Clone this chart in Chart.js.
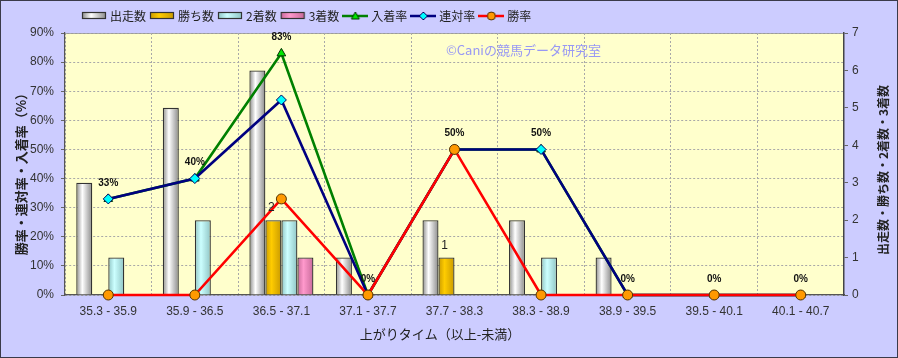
<!DOCTYPE html>
<html><head><meta charset="utf-8">
<script src="https://cdn.jsdelivr.net/npm/chart.js@4/dist/chart.umd.min.js"></script>
<style>
html,body{margin:0;padding:0;background:#CCCCFF;}
#wrap{width:898px;height:358px;box-sizing:border-box;border:1px solid #3a3a4a;background:#CCCCFF;}
canvas{display:block;}
</style></head><body>
<div id="wrap"><canvas id="c" width="896" height="356"></canvas></div>
<script>
// ---- data ----
const categories = ['35.3 - 35.9','35.9 - 36.5','36.5 - 37.1','37.1 - 37.7','37.7 - 38.3','38.3 - 38.9','38.9 - 39.5','39.5 - 40.1','40.1 - 40.7'];
const starts  = [3,5,6,1,2,2,1,0,0];   // 出走数
const wins    = [0,0,2,0,1,0,0,0,0];   // 勝ち数
const seconds = [1,2,2,0,0,1,0,0,0];   // 2着数
const thirds  = [0,0,1,0,0,0,0,0,0];   // 3着数
const placeRate  = [33,40,83,0,50,50,0,0,0]; // 入着率
const rentaiRate = [33,40,67,0,50,50,0,0,0]; // 連対率
const winRate    = [0,0,33,0,50,0,0,0,0];    // 勝率
const rateTicks  = [0,10,20,30,40,50,60,70,80,90];
const countTicks = [0,1,2,3,4,5,6,7];
const seriesNames = ['出走数','勝ち数','2着数','3着数','入着率','連対率','勝率'];

const CAT_PCT = 0.74;
const NUM_FONT = "'Liberation Sans',Arial,sans-serif";
const JP_FONT = "'Noto Sans CJK JP',sans-serif";

const barColors = [
  {light:'#FFFFFF', dark:'#8a8a8a'},
  {light:'#FFCC00', dark:'#C99A00'},
  {light:'#CCFFFF', dark:'#8FC4C4'},
  {light:'#FF99CC', dark:'#C86A9A'}
];
const lineStyles = [
  {color:'#008000', marker:'triangle', fill:'#00E600', edge:'#003300'},
  {color:'#000080', marker:'rectRot', fill:'#00FFFF', edge:'#000060'},
  {color:'#FF0000', marker:'circle', fill:'#FF9900', edge:'#553300'}
];

function barGradient(i) {
  const c = barColors[i];
  return function(ctx) {
    if (ctx.type !== 'data') return c.light;
    const chart = ctx.chart, xs = chart.scales.x;
    if (!xs) return c.light;
    const n = categories.length;
    const catW = (xs.right - xs.left) / n;
    const bw = catW * CAT_PCT / 4;
    const cx = xs.getPixelForValue(ctx.dataIndex);
    const left = cx - catW * CAT_PCT / 2 + i * bw;
    const g = chart.ctx.createLinearGradient(left, 0, left + bw, 0);
    g.addColorStop(0, c.dark); g.addColorStop(0.38, c.light); g.addColorStop(1, c.dark);
    return g;
  };
}

function legendImg(k) {
  const cv = document.createElement('canvas');
  cv.width = 26; cv.height = 12;
  const g = cv.getContext('2d');
  if (k < 4) {
    const c = barColors[k];
    const gr = g.createLinearGradient(1, 0, 25, 0);
    gr.addColorStop(0, c.dark); gr.addColorStop(0.38, c.light); gr.addColorStop(1, c.dark);
    g.fillStyle = gr; g.fillRect(1.5, 2.5, 23, 6);
    g.strokeStyle = '#333'; g.lineWidth = 1.2; g.strokeRect(1.5, 2.5, 23, 6);
  } else {
    const s = lineStyles[k - 4];
    g.strokeStyle = s.color; g.lineWidth = 2.5;
    g.beginPath(); g.moveTo(0, 6); g.lineTo(26, 6); g.stroke();
    g.fillStyle = s.fill; g.strokeStyle = s.edge; g.lineWidth = 1;
    g.beginPath();
    if (s.marker === 'triangle') { g.moveTo(13, 2); g.lineTo(17, 9); g.lineTo(9, 9); g.closePath(); }
    else if (s.marker === 'rectRot') { g.moveTo(13, 2); g.lineTo(17, 6); g.lineTo(13, 10); g.lineTo(9, 6); g.closePath(); }
    else { g.arc(13, 6, 4, 0, Math.PI * 2); }
    g.fill(); g.stroke();
  }
  return cv;
}
const legendImages = seriesNames.map((_, i) => legendImg(i));

function barDs(label, data, i) {
  return {type:'bar', label, data, yAxisID:'y1', backgroundColor: barGradient(i),
    borderColor:'#333', borderWidth:1.3, borderSkipped:'bottom',
    categoryPercentage: CAT_PCT, barPercentage: 1.0, order: 10 + i};
}
function lineDs(label, data, k, order) {
  const s = lineStyles[k];
  return {type:'line', label, data, yAxisID:'y', borderColor:s.color, borderWidth:2.6,
    pointStyle:s.marker, pointRadius:5, pointBackgroundColor:s.fill, pointBorderColor:s.edge,
    pointBorderWidth:1, tension:0, clip:false, order, fill:false};
}

const bgPlugin = {
  id:'bg',
  beforeDraw(chart) {
    const {ctx, chartArea:a} = chart;
    ctx.save();
    ctx.fillStyle = '#CCCCFF'; ctx.fillRect(0, 0, chart.width, chart.height);
    ctx.fillStyle = '#FFFFCC'; ctx.fillRect(a.left, a.top, a.right - a.left, a.bottom - a.top);
    ctx.strokeStyle = '#9a9a9a'; ctx.lineWidth = 1;
    ctx.beginPath(); ctx.moveTo(a.left, a.top + 0.5); ctx.lineTo(a.right, a.top + 0.5); ctx.stroke();
    ctx.restore();
  },
  afterLayout(chart) {
    if (chart.legend) { chart.legend.left += 77; chart.legend.top -= 1; }
  }
};

const textPlugin = {
  id:'texts',
  beforeDatasetsDraw(chart) {
    const ctx = chart.ctx;
    ctx.save();
    ctx.font = '13px ' + JP_FONT;
    ctx.fillStyle = '#9898F4';
    ctx.textAlign = 'left'; ctx.textBaseline = 'middle';
    ctx.fillText('©Caniの競馬データ研究室', 445, 49);
    ctx.restore();
  },
  afterDatasetsDraw(chart) {
    const ctx = chart.ctx;
    ctx.save();
    // 入着率 labels
    const m = chart.getDatasetMeta(4);
    ctx.font = 'bold 10px ' + NUM_FONT;
    ctx.fillStyle = '#111'; ctx.textAlign = 'center'; ctx.textBaseline = 'middle';
    m.data.forEach((pt, i) => { ctx.fillText(placeRate[i] + '%', pt.x, pt.y - 16); });
    // 勝ち数 labels
    const mb = chart.getDatasetMeta(1);
    ctx.font = '12px ' + NUM_FONT;
    ctx.fillStyle = '#222';
    mb.data.forEach((b, i) => { if (wins[i] > 0) ctx.fillText(String(wins[i]), b.x - 2, b.y - 12); });
    ctx.restore();
  },
  afterDraw(chart) {
    const ctx = chart.ctx;
    ctx.save();
    ctx.fillStyle = '#222'; ctx.textAlign = 'center'; ctx.textBaseline = 'middle';
    ctx.font = '13px ' + JP_FONT;
    ctx.fillText('上がりタイム（以上-未満）', 439, 333);
    ctx.font = 'bold 13px ' + JP_FONT;
    ctx.translate(20, 170); ctx.rotate(-Math.PI / 2);
    ctx.fillText('勝率・連対率・入着率（%）', 0, 0);
    ctx.restore();
    ctx.save();
    ctx.fillStyle = '#222'; ctx.textAlign = 'center'; ctx.textBaseline = 'middle';
    ctx.font = 'bold 12px ' + JP_FONT;
    ctx.translate(882, 169); ctx.rotate(-Math.PI / 2);
    ctx.fillText('出走数・勝ち数・2着数・3着数', 0, 0);
    ctx.restore();
  }
};

new Chart(document.getElementById('c'), {
  data: {
    labels: categories,
    datasets: [
      barDs(seriesNames[0], starts, 0),
      barDs(seriesNames[1], wins, 1),
      barDs(seriesNames[2], seconds, 2),
      barDs(seriesNames[3], thirds, 3),
      lineDs(seriesNames[4], placeRate, 0, 2),
      lineDs(seriesNames[5], rentaiRate, 1, 1),
      lineDs(seriesNames[6], winRate, 2, 0)
    ]
  },
  options: {
    responsive:false, animation:false, devicePixelRatio:1,
    layout:{padding:{top:4, bottom:38, left:0, right:0}},
    plugins:{
      tooltip:{enabled:false},
      legend:{
        position:'top', align:'start',
        labels:{
          usePointStyle:true, pointStyleWidth:20, padding:6, color:'#222',
          font:{family:JP_FONT, size:12},
          generateLabels:(chart) => chart.data.datasets.map((ds, i) => ({
            text: ds.label, pointStyle: legendImages[i], datasetIndex: i, hidden:false,
            fillStyle:'#000', strokeStyle:'#000', lineWidth:0, fontColor:'#222'
          }))
        }
      }
    },
    scales:{
      x:{
        type:'category', offset:true,
        grid:{offset:true, color:'#a8a8a8', lineWidth:1, drawTicks:false},
        border:{display:true, color:'#555', width:1.2, dash:[2,2]},
        ticks:{color:'#333', font:{family:NUM_FONT, size:12}, padding:9, maxRotation:0, autoSkip:false},
        afterFit(s){ s.height = 24; }
      },
      y:{
        position:'left', min:0, max:90,
        grid:{color:'#a8a8a8', lineWidth:1, tickLength:4, tickColor:'#666', tickBorderDash:[]},
        border:{display:true, color:'#555', width:1.2, dash:[2,2]},
        afterBuildTicks(s){ s.ticks = rateTicks.map(v => ({value:v})); },
        ticks:{color:'#333', font:{family:NUM_FONT, size:12}, padding:7, callback:(v) => v + '%'},
        afterFit(s){ s.width = 64; }
      },
      y1:{
        position:'right', min:0, max:7,
        grid:{drawOnChartArea:false, tickLength:4, tickColor:'#666', tickBorderDash:[]},
        border:{display:true, color:'#444', width:1.5},
        afterBuildTicks(s){ s.ticks = countTicks.map(v => ({value:v})); },
        ticks:{color:'#333', font:{family:NUM_FONT, size:12}, padding:4},
        afterFit(s){ s.width = 53; }
      }
    }
  },
  plugins:[bgPlugin, textPlugin]
});
</script>
</body></html>
